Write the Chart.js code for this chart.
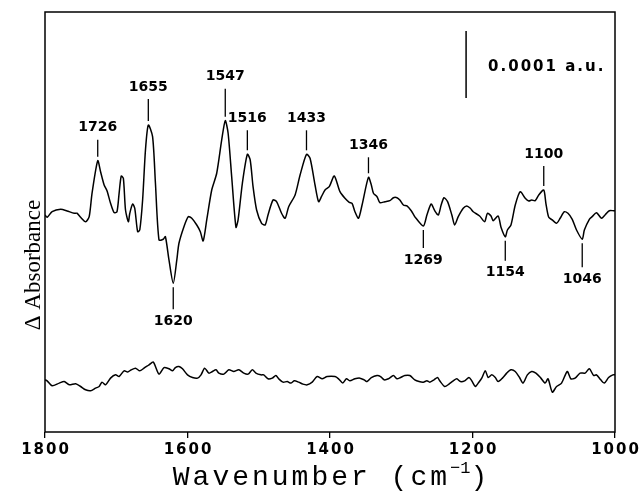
<!DOCTYPE html>
<html>
<head>
<meta charset="utf-8">
<script src="https://cdn.jsdelivr.net/npm/chart.js@4"></script>
<style>
  body { margin: 0; background: #fff; }
  canvas { display: block; }
</style>
</head>
<body>
<canvas id="myChart" width="642" height="491"></canvas>
<script>
// Spectra data (wavenumber in cm-1, ΔA in units of 1e-5 a.u.)
const upperWn = [1800, 1797, 1790, 1778, 1769, 1759, 1755, 1750, 1743, 1738, 1734, 1726, 1722, 1717, 1713, 1708, 1703, 1699, 1696, 1693, 1690, 1687, 1683, 1681, 1677, 1674, 1670, 1667, 1663, 1659, 1655, 1649, 1645, 1640, 1634, 1631, 1626, 1620, 1615, 1612, 1605, 1599, 1594, 1587, 1582, 1578, 1573, 1566, 1559, 1552, 1547, 1543, 1538, 1532, 1529, 1523, 1516, 1512, 1508, 1503, 1496, 1491, 1487, 1480, 1475, 1468, 1463, 1458, 1449, 1442, 1433, 1428, 1421, 1416, 1412, 1407, 1401, 1394, 1386, 1379, 1373, 1369, 1365, 1360, 1355, 1346, 1342, 1339, 1334, 1330, 1323, 1316, 1311, 1306, 1302, 1297, 1292, 1286, 1281, 1269, 1264, 1258, 1253, 1248, 1244, 1240, 1235, 1229, 1225, 1220, 1213, 1208, 1203, 1199, 1190, 1183, 1179, 1174, 1171, 1164, 1160, 1154, 1151, 1146, 1140, 1133, 1126, 1121, 1117, 1112, 1107, 1100, 1097, 1093, 1088, 1082, 1077, 1071, 1066, 1060, 1054, 1046, 1043, 1036, 1032, 1026, 1019, 1014, 1008, 1002, 1000];
const upperAbs = [-0.45, -0.79, 0.04, 0.40, 0.15, -0.19, -0.19, -0.79, -1.45, -0.70, 2.79, 7.66, 6.01, 4.03, 3.18, 1.30, -0.10, 0.04, 2.79, 5.37, 5.03, 0.30, -1.45, -0.19, 1.19, 0.55, -2.94, -2.69, 1.79, 9.25, 12.98, 11.24, 4.28, -4.18, -4.07, -3.69, -7.16, -10.64, -7.16, -4.67, -2.19, -0.70, -0.94, -1.94, -2.94, -4.33, -1.19, 3.28, 5.78, 10.75, 13.63, 11.75, 5.27, -2.28, -1.19, 4.28, 8.61, 7.76, 3.78, 0.30, -1.69, -1.94, -0.45, 1.79, 1.54, -0.19, -0.94, 0.79, 2.54, 5.52, 8.61, 8.01, 4.03, 1.54, 2.28, 3.28, 3.78, 5.37, 3.03, 2.04, 1.45, 1.30, 0.04, -0.94, 1.04, 5.18, 4.03, 2.79, 2.28, 1.39, 1.54, 1.69, 2.13, 2.13, 1.79, 1.04, 0.90, 0.19, -0.70, -2.09, -0.45, 1.19, 0.19, -0.45, 1.04, 2.13, 1.54, -0.45, -1.94, -0.70, 0.55, 0.90, 0.55, 0.04, -0.60, -1.45, -0.19, -0.60, -1.30, -0.60, -2.28, -3.69, -2.69, -1.94, 1.04, 3.03, 2.04, 1.64, 1.79, 1.69, 2.54, 3.28, 1.30, -0.79, -1.19, -1.69, -0.94, 0.04, -0.19, -1.09, -2.69, -4.07, -2.69, -1.09, -0.70, -0.10, -0.94, -0.45, 0.19, 0.19, 0.20];

const lowerWn = [1800, 1797, 1790, 1780, 1773, 1766, 1757, 1750, 1743, 1736, 1729, 1724, 1720, 1715, 1708, 1701, 1696, 1689, 1684, 1679, 1673, 1667, 1661, 1654, 1648, 1640, 1633, 1626, 1621, 1617, 1612, 1607, 1600, 1593, 1586, 1581, 1576, 1570, 1565, 1560, 1556, 1549, 1542, 1535, 1528, 1521, 1515, 1509, 1504, 1497, 1493, 1487, 1481, 1476, 1472, 1466, 1460, 1455, 1450, 1444, 1438, 1432, 1425, 1418, 1411, 1404, 1393, 1388, 1382, 1377, 1372, 1365, 1358, 1352, 1348, 1342, 1334, 1329, 1324, 1318, 1311, 1306, 1301, 1295, 1288, 1281, 1275, 1269, 1264, 1260, 1254, 1249, 1246, 1239, 1233, 1227, 1222, 1217, 1211, 1205, 1201, 1196, 1192, 1187, 1182, 1178, 1173, 1168, 1164, 1158, 1152, 1146, 1140, 1134, 1129, 1123, 1117, 1111, 1104, 1098, 1094, 1088, 1082, 1075, 1067, 1062, 1056, 1049, 1042, 1036, 1030, 1026, 1020, 1015, 1009, 1003, 1000];
const lowerAbs = [0.45, 0.30, -0.45, -0.04, 0.19, -0.30, -0.15, -0.55, -1.04, -1.19, -0.79, -0.55, 0.10, -0.30, 0.70, 1.19, 0.94, 1.79, 1.60, 1.94, 2.19, 1.79, 2.19, 2.69, 3.09, 1.30, 2.28, 2.09, 1.79, 2.28, 2.43, 2.09, 1.19, 0.79, 0.70, 1.19, 2.19, 1.45, 1.69, 1.94, 1.45, 1.30, 1.94, 1.69, 1.94, 1.45, 1.30, 1.94, 1.45, 1.19, 1.19, 0.60, 0.70, 1.09, 0.60, 0.10, 0.19, -0.04, 0.30, 0.10, -0.19, -0.30, 0.10, 0.94, 0.60, 0.94, 0.94, 0.60, -0.04, 0.60, 0.30, 0.60, 0.70, 0.45, 0.19, 0.79, 1.09, 0.94, 0.45, 0.60, 1.09, 0.60, 0.79, 1.09, 1.09, 0.45, 0.19, 0.10, 0.30, 0.10, 0.45, 0.79, 0.30, -0.55, -0.19, 0.30, 0.60, 0.19, 0.30, 0.79, 0.30, -0.55, -0.04, 0.70, 1.79, 0.79, 1.19, 0.79, 0.19, 0.70, 1.45, 1.94, 1.69, 0.79, -0.04, 1.19, 1.69, 1.45, 0.70, -0.04, 0.60, -1.39, -0.55, -0.04, 1.69, 0.60, 0.70, 1.45, 1.45, 2.09, 1.09, 1.19, 0.45, -0.04, 0.79, 1.19, 1.20];
const lowerOffset = -25.5;

// Labelled bands
const peakWn = [1726, 1655, 1620, 1547, 1516, 1433, 1346, 1269, 1154, 1100, 1046];
const peakSide = ['up', 'up', 'down', 'up', 'up', 'up', 'up', 'down', 'down', 'up', 'down'];
const peakTick = [17, 22, 22, 28, 20, 20, 16, 18, 20, 20, 24];

const xTicks = [1800, 1600, 1400, 1200, 1000];
const scaleBarWn = 1209;
const scaleBarAbs = [17, 27];
const scaleBarText = '0.0001 a.u.';

const toPts = (xs, ys, off) => xs.map((x, i) => ({ x: x, y: ys[i] + off }));

function valueAt(xs, ys, wn) {
  for (let i = 0; i < xs.length - 1; i++) {
    if (wn <= xs[i] && wn >= xs[i + 1]) {
      const t = (xs[i] - wn) / (xs[i] - xs[i + 1] || 1);
      return ys[i] + t * (ys[i + 1] - ys[i]);
    }
  }
  return 0;
}

// text with letter spacing, centred on x
function spacedText(c, text, x, y, gap) {
  let w = 0;
  for (const ch of text) w += c.measureText(ch).width + gap;
  w -= gap;
  let cx = x - w / 2;
  c.textAlign = 'left';
  for (const ch of text) {
    c.fillText(ch, cx, y);
    cx += c.measureText(ch).width + gap;
  }
  return w;
}

const decor = {
  id: 'decor',
  beforeDraw(chart) {
    const c = chart.ctx;
    c.save();
    c.fillStyle = '#fff';
    c.fillRect(0, 0, chart.width, chart.height);
    c.restore();
  },
  afterDraw(chart) {
    const c = chart.ctx;
    const a = chart.chartArea;
    const xs = chart.scales.x, ys = chart.scales.y;
    c.save();
    // frame
    c.strokeStyle = '#000';
    c.lineWidth = 1.5;
    c.strokeRect(a.left, a.top, a.right - a.left, a.bottom - a.top);
    c.fillStyle = '#000';
    c.textBaseline = 'middle';

    // tick labels
    c.font = 'bold 15px "DejaVu Sans"';
    xTicks.forEach(v => spacedText(c, String(v), xs.getPixelForValue(v), 450, 2));

    // peak markers
    c.font = 'bold 14px "DejaVu Sans"';
    c.textAlign = 'center';
    c.lineWidth = 1.3;
    peakWn.forEach((wn, i) => {
      const px = xs.getPixelForValue(wn);
      const py = ys.getPixelForValue(valueAt(upperWn, upperAbs, wn));
      const dir = peakSide[i] === 'up' ? -1 : 1;
      const y0 = py + dir * 4;
      const y1 = y0 + dir * peakTick[i];
      c.beginPath();
      c.moveTo(px, y0);
      c.lineTo(px, y1);
      c.stroke();
      c.textAlign = 'center';
      c.fillText(String(wn), px, y1 + dir * 12);
    });

    // scale bar label
    c.font = 'bold 15px "DejaVu Sans"';
    const lx = xs.getPixelForValue(scaleBarWn) + 21;
    const ly = ys.getPixelForValue((scaleBarAbs[0] + scaleBarAbs[1]) / 2) + 3;
    let w = 0;
    for (const ch of scaleBarText) w += c.measureText(ch).width + 2;
    spacedText(c, scaleBarText, lx + w / 2, ly, 2);

    // x title with superscript
    c.textBaseline = 'alphabetic';
    const big = '28px "Liberation Mono"', small = '17px "Liberation Mono"';
    const t1 = 'Wavenumber (cm', t2 = '\u22121', t3 = ')';
    const gap = 3;
    const width = (s, f, g) => { c.font = f; let t = 0; for (const ch of s) t += c.measureText(ch).width + g; return t; };
    const w1 = width(t1, big, gap), w2 = width(t2, small, 0), w3 = width(t3, big, 0);
    let tx = (a.left + a.right) / 2 - (w1 + w2 + w3) / 2;
    const base = 485;
    c.textAlign = 'left';
    c.font = big;
    for (const ch of t1) { c.fillText(ch, tx, base); tx += c.measureText(ch).width + gap; }
    c.font = small; c.fillText(t2, tx, base - 12); tx += w2;
    c.font = big; c.fillText(t3, tx, base);

    // y title
    c.translate(34, 265);
    c.rotate(-Math.PI / 2);
    c.textAlign = 'center';
    c.textBaseline = 'middle';
    c.font = '23px "Liberation Serif"';
    c.fillText('\u0394 Absorbance', 0, 0);
    c.restore();
  }
};

const ctx = document.getElementById('myChart');

new Chart(ctx, {
  type: 'line',
  data: {
    datasets: [
      { data: toPts(upperWn, upperAbs, 0), borderColor: '#000', borderWidth: 1.5, pointRadius: 0, tension: 0.25 },
      { data: toPts(lowerWn, lowerAbs, lowerOffset), borderColor: '#000', borderWidth: 1.5, pointRadius: 0, tension: 0.25 },
      { data: scaleBarAbs.map(v => ({ x: scaleBarWn, y: v })), borderColor: '#000', borderWidth: 1.5, pointRadius: 0 }
    ]
  },
  options: {
    responsive: false,
    animation: false,
    layout: { padding: { left: 45, right: 27, top: 12, bottom: 0 } },
    plugins: { legend: { display: false }, tooltip: { enabled: false } },
    scales: {
      x: {
        type: 'linear',
        reverse: true,
        min: 1000,
        max: 1800,
        afterBuildTicks: axis => { axis.ticks = xTicks.map(v => ({ value: v })); },
        afterFit: axis => { axis.height = 59; },
        ticks: { display: false },
        grid: { drawOnChartArea: false, drawTicks: true, tickLength: 6, color: '#000', lineWidth: 1.3 },
        border: { display: false }
      },
      y: { display: false, min: -32.84, max: 29.85 }
    }
  },
  plugins: [decor]
});
</script>
</body>
</html>
